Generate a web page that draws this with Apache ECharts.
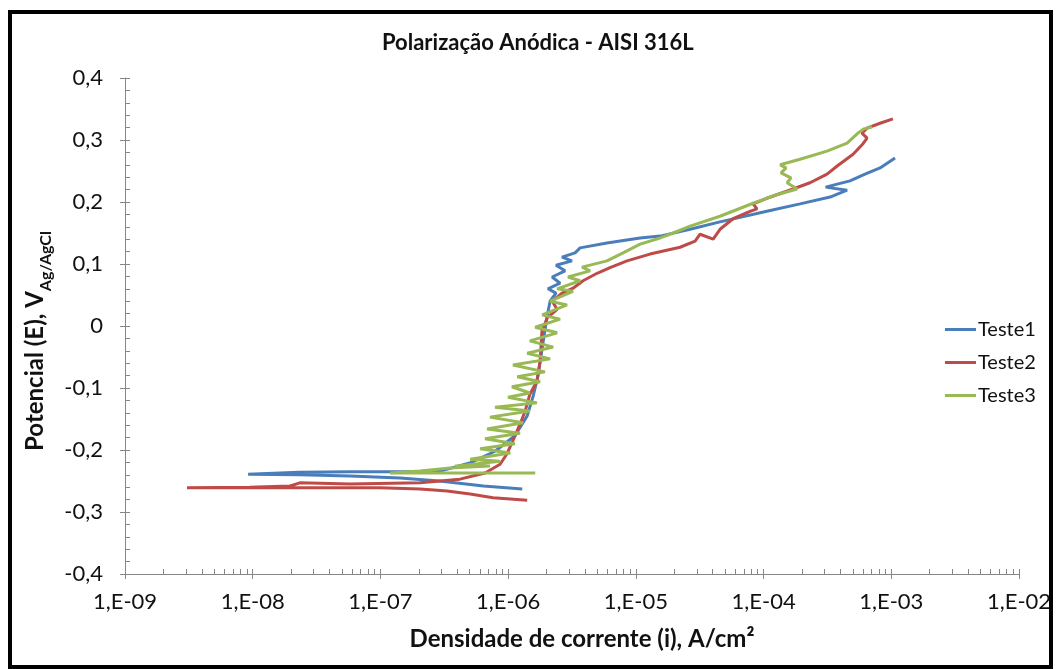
<!DOCTYPE html>
<html>
<head>
<meta charset="utf-8">
<script src="https://cdn.jsdelivr.net/npm/echarts@6/dist/echarts.min.js"></script>
<style>
  html, body { margin: 0; padding: 0; background: #fff; }
  #chart { width: 1057px; height: 669px; }
</style>
</head>
<body>
<div id="chart"></div>
<script>
// Teste1 (blue): current density A/cm² and potential V
const teste1Current = [1.29e-6, 6.4e-7, 2.9e-7, 1.42e-7, 5.8e-8, 2.34e-8, 9.2e-9, 2.3e-8, 5.8e-8, 2.04e-7, 2.93e-7, 5.0e-7, 7.9e-7, 1.13e-6, 1.41e-6, 1.57e-6, 1.71e-6, 1.81e-6, 1.91e-6, 2.02e-6, 2.13e-6, 2.37e-6, 2.05e-6, 2.55e-6, 2.21e-6, 2.79e-6, 2.37e-6, 3.16e-6, 2.64e-6, 3.34e-6, 3.66e-6, 5.94e-6, 1.08e-5, 1.55e-5, 2.66e-5, 4.56e-5, 1.06e-4, 1.93e-4, 3.32e-4, 4.51e-4, 3.06e-4, 4.75e-4, 6.23e-4, 8.17e-4, 1.07e-3]
const teste1Potential = [-0.263, -0.258, -0.250, -0.245, -0.242, -0.240, -0.239, -0.236, -0.235, -0.235, -0.234, -0.221, -0.202, -0.177, -0.145, -0.113, -0.081, -0.048, -0.016, 0.016, 0.040, 0.053, 0.060, 0.069, 0.079, 0.089, 0.098, 0.105, 0.111, 0.118, 0.126, 0.134, 0.142, 0.145, 0.156, 0.168, 0.185, 0.197, 0.208, 0.219, 0.224, 0.234, 0.245, 0.255, 0.271]

// Teste2 (red)
const teste2Current = [1.41e-6, 7.62e-7, 5.04e-7, 3.33e-7, 2.04e-7, 9.9e-8, 2.35e-8, 7.96e-9, 3.06e-9, 9.5e-9, 1.96e-8, 2.34e-8, 5.78e-8, 2.04e-7, 4.2e-7, 6.6e-7, 8.65e-7, 9.8e-7, 1.09e-6, 1.24e-6, 1.36e-6, 1.48e-6, 1.68e-6, 1.78e-6, 1.84e-6, 2.02e-6, 2.42e-6, 2.21e-6, 2.64e-6, 3.22e-6, 3.86e-6, 4.97e-6, 6.28e-6, 8.53e-6, 1.29e-5, 2.22e-5, 2.91e-5, 3.18e-5, 4.03e-5, 4.56e-5, 5.77e-5, 7.83e-5, 8.89e-5, 8.28e-5, 1.06e-4, 1.70e-4, 2.31e-4, 3.14e-4, 3.77e-4, 5.02e-4, 6.01e-4, 6.46e-4, 5.90e-4, 6.46e-4, 8.17e-4, 1.03e-3]
const teste2Potential = [-0.281, -0.277, -0.271, -0.266, -0.263, -0.261, -0.261, -0.261, -0.261, -0.260, -0.258, -0.253, -0.255, -0.253, -0.247, -0.237, -0.223, -0.206, -0.185, -0.158, -0.137, -0.110, -0.089, -0.056, -0.008, 0.013, 0.027, 0.040, 0.053, 0.061, 0.073, 0.085, 0.094, 0.105, 0.116, 0.127, 0.137, 0.148, 0.140, 0.156, 0.173, 0.185, 0.189, 0.197, 0.206, 0.221, 0.231, 0.245, 0.258, 0.277, 0.294, 0.303, 0.311, 0.319, 0.327, 0.334]

// Teste3 (green)
const teste3Current = [1.63e-6, 1.19e-7, 2.04e-7, 3.51e-7, 7.21e-7, 3.84e-7, 8.65e-7, 5.04e-7, 1.04e-6, 6.03e-7, 1.13e-6, 6.59e-7, 1.24e-6, 6.84e-7, 1.31e-6, 7.21e-7, 1.48e-6, 7.89e-7, 1.68e-6, 9.98e-7, 1.48e-6, 1.07e-6, 1.78e-6, 1.18e-6, 1.94e-6, 1.09e-6, 2.13e-6, 1.41e-6, 2.25e-6, 1.48e-6, 2.42e-6, 1.63e-6, 2.55e-6, 1.85e-6, 2.89e-6, 2.13e-6, 3.22e-6, 2.42e-6, 3.66e-6, 2.94e-6, 4.38e-6, 3.79e-6, 5.94e-6, 7.94e-6, 1.08e-5, 1.55e-5, 1.96e-5, 2.66e-5, 4.56e-5, 8.28e-5, 1.19e-4, 1.83e-4, 1.53e-4, 1.64e-4, 1.37e-4, 1.50e-4, 1.35e-4, 1.93e-4, 3.14e-4, 4.51e-4, 5.40e-4, 6.12e-4, 7.08e-4]
const teste3Potential = [-0.237, -0.237, -0.234, -0.229, -0.226, -0.226, -0.218, -0.215, -0.205, -0.198, -0.190, -0.182, -0.173, -0.166, -0.156, -0.147, -0.137, -0.131, -0.124, -0.115, -0.108, -0.098, -0.090, -0.082, -0.074, -0.063, -0.053, -0.044, -0.034, -0.024, -0.011, -0.002, 0.011, 0.018, 0.034, 0.040, 0.056, 0.060, 0.073, 0.079, 0.089, 0.095, 0.105, 0.118, 0.132, 0.142, 0.150, 0.161, 0.177, 0.198, 0.210, 0.221, 0.231, 0.239, 0.247, 0.255, 0.260, 0.269, 0.282, 0.295, 0.310, 0.318, 0.321]

const seriesNames = ['Teste1', 'Teste2', 'Teste3']
const xMin = 1e-9
const xMax = 1e-2
const yMin = -0.4
const yMax = 0.4
const yStep = 0.1

const FONT = 'Lato, "Open Sans", sans-serif'
const AXIS_COLOR = '#868686'
const TEXT_COLOR = '#111'

// log minor ticks 1..9 for every decade
const minorLogTicks = []
for (let e = -9; e < -2; e++) {
  for (let m = 1; m <= 9; m++)
    minorLogTicks.push(m * Math.pow(10, e))
}
minorLogTicks.push(xMax)

const pairs = (xs, ys) => xs.map((x, i) => [x, ys[i]])

const chart = echarts.init(document.getElementById('chart'))

const option = {
  animation: false,
  color: ['#4A7EBB', '#BE4B48', '#98B954'],
  textStyle: { fontFamily: FONT },
  title: {
    text: 'Polarização Anódica - AISI 316L',
    left: 377,
    top: 27,
    textStyle: { fontSize: 22, fontWeight: 'bold', color: TEXT_COLOR, fontFamily: FONT },
  },
  graphic: [
    {
      type: 'rect',
      shape: { x: 10, y: 12, width: 1041, height: 655 },
      style: { fill: 'none', stroke: '#000', lineWidth: 4 },
      silent: true,
    },
  ],
  legend: {
    orient: 'vertical',
    left: 940,
    top: 313,
    icon: 'rect',
    itemWidth: 31,
    itemHeight: 3,
    itemGap: 10,
    data: seriesNames,
    textStyle: { fontSize: 20, lineHeight: 23, color: TEXT_COLOR, fontFamily: FONT, padding: [0, 0, 0, -3] },
  },
  grid: { left: 125, right: 38, top: 78, bottom: 95, containLabel: false },
  xAxis: [
    {
      type: 'log',
      min: xMin,
      max: xMax,
      logBase: 10,
      name: 'Densidade de corrente (i), A/cm²',
      nameLocation: 'middle',
      nameGap: 53,
      nameTextStyle: { fontSize: 24, fontWeight: 'bold', color: TEXT_COLOR, fontFamily: FONT, padding: [0, 0, 0, 20] },
      axisLine: { onZero: false, lineStyle: { color: AXIS_COLOR, width: 1 } },
      axisTick: { show: true, length: 5, lineStyle: { color: AXIS_COLOR } },
      axisLabel: {
        fontSize: 22,
        color: TEXT_COLOR,
        margin: 17,
        formatter: v => {
          const e = Math.round(Math.log10(v))
          return '1,E' + (e < 0 ? '-' : '+') + String(Math.abs(e)).padStart(2, '0')
        },
      },
      splitLine: { show: false },
    },
    {
      type: 'log',
      min: xMin,
      max: xMax,
      logBase: 10,
      position: 'bottom',
      axisLine: { show: false, onZero: false },
      axisLabel: { show: false },
      axisTick: { show: true, inside: true, length: 5, customValues: minorLogTicks, lineStyle: { color: AXIS_COLOR } },
      splitLine: { show: false },
    },
  ],
  yAxis: [
    {
      type: 'value',
      min: yMin,
      max: yMax,
      interval: yStep,
      name: '{b|Potencial (E), V}{s|Ag/AgCl}',
      nameLocation: 'middle',
      nameRotate: 90,
      nameGap: 64,
      nameTextStyle: {
        padding: [0, 30, 0, 0],
        rich: {
          b: { fontSize: 24, fontWeight: 'bold', color: TEXT_COLOR, fontFamily: FONT, lineHeight: 30, verticalAlign: 'bottom' },
          s: { fontSize: 16, fontWeight: 'bold', color: TEXT_COLOR, fontFamily: FONT, lineHeight: 30, verticalAlign: 'bottom', padding: [0, 0, -6, 0] },
        },
      },
      axisLine: { show: true, onZero: false, lineStyle: { color: AXIS_COLOR, width: 1 } },
      axisTick: { show: true, inside: true, length: 5, lineStyle: { color: AXIS_COLOR } },
      minorTick: { show: true, splitNumber: 5, length: 5, lineStyle: { color: AXIS_COLOR } },
      axisLabel: {
        fontSize: 22,
        color: TEXT_COLOR,
        margin: 22,
        formatter: v => (Math.abs(v) < 1e-9 ? '0' : v.toFixed(1).replace('.', ',')),
      },
      splitLine: { show: false },
    },
    {
      type: 'value',
      min: yMin,
      max: yMax,
      interval: yStep,
      position: 'left',
      axisLine: { show: false, onZero: false },
      axisLabel: { show: false },
      axisTick: { show: true, inside: false, length: 5, lineStyle: { color: AXIS_COLOR } },
      splitLine: { show: false },
    },
  ],
  series: [
    { name: 'Teste1', type: 'line', data: pairs(teste1Current, teste1Potential), symbol: 'none', lineStyle: { width: 3 }, z: 2 },
    { name: 'Teste2', type: 'line', data: pairs(teste2Current, teste2Potential), symbol: 'none', lineStyle: { width: 3 }, z: 3 },
    { name: 'Teste3', type: 'line', data: pairs(teste3Current, teste3Potential), symbol: 'none', lineStyle: { width: 3 }, z: 4 },
  ],
}

chart.setOption(option)
</script>
</body>
</html>
